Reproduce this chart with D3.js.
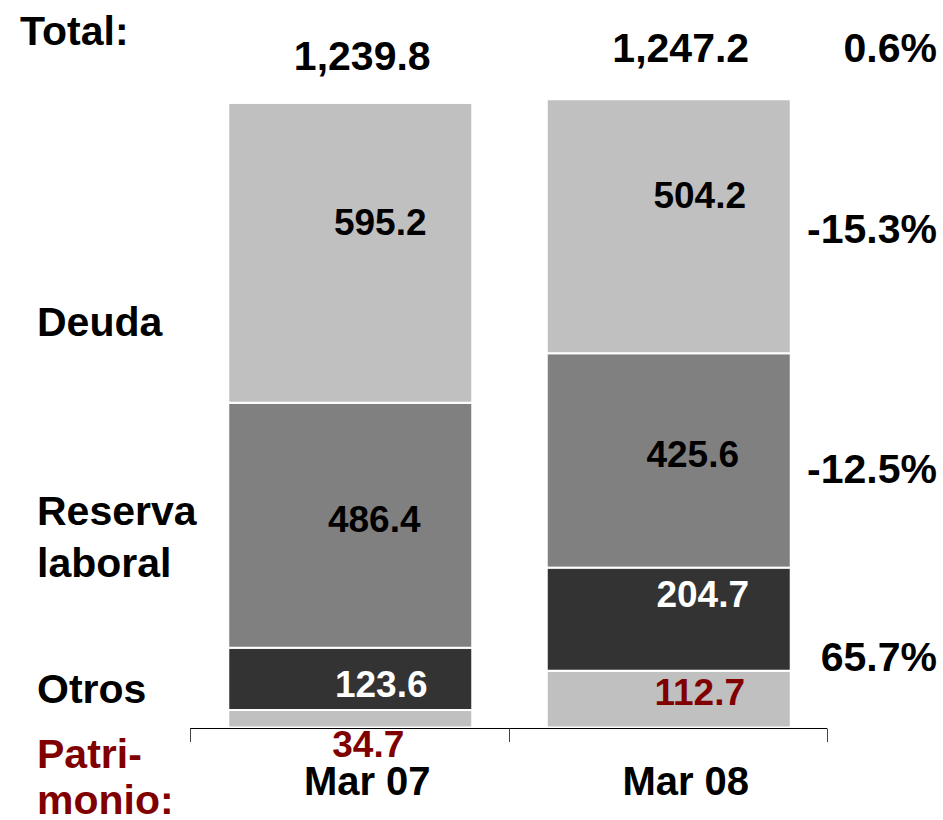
<!DOCTYPE html>
<html>
<head>
<meta charset="utf-8">
<script src="https://cdn.jsdelivr.net/npm/d3@7"></script>
<style>
  html, body { margin: 0; padding: 0; background: #fff; }
  svg { display: block; }
  text { font-family: "Liberation Sans", Arial, sans-serif; font-weight: bold; }
</style>
</head>
<body>
<svg id="chart" width="943" height="820"></svg>
<script>
// ---- data ----
const periods = ["Mar 07", "Mar 08"];
const segments = ["Patrimonio", "Otros", "Reserva laboral", "Deuda"];
const patrimonio = [34.7, 112.7];
const otros = [123.6, 204.7];
const reserva = [486.4, 425.6];
const deuda = [595.2, 504.2];
const totals = [1239.8, 1247.2];
const totalLabels = ["1,239.8", "1,247.2"];
const changeLabels = ["0.6%", "-15.3%", "-12.5%", "65.7%"]; // total, deuda, reserva, otros

// ---- styling / layout ----
const segColors = { "Patrimonio": "#c0c0c0", "Otros": "#333333", "Reserva laboral": "#808080", "Deuda": "#c0c0c0" };
const segTextColors = { "Patrimonio": "#800000", "Otros": "#ffffff", "Reserva laboral": "#000000", "Deuda": "#000000" };
// label nudges [dx, dy from segment middle to baseline] per period per segment
const labelNudge = {
  "Mar 07": { "Deuda": [31, -18], "Reserva laboral": [25, 7], "Otros": [32, 18], "Patrimonio": [19, null] },
  "Mar 08": { "Deuda": [32, -18], "Reserva laboral": [25, 7], "Otros": [35, -12], "Patrimonio": [32, 6] }
};

const svg = d3.select("#chart");

const x = d3.scaleBand().domain(periods).range([190, 827]).padding(0);
const barW = 244;
const y = d3.scaleLinear().domain([0, 1239.8]).range([727.5, 103]);

const table = periods.map((p, i) => ({
  period: p,
  "Patrimonio": patrimonio[i],
  "Otros": otros[i],
  "Reserva laboral": reserva[i],
  "Deuda": deuda[i]
}));
const stack = d3.stack().keys(segments)(table);

const barX = p => x(p) + x.bandwidth() / 2 - barW / 2 + 1;

// bars
const layers = svg.append("g").selectAll("g").data(stack).join("g")
  .attr("fill", d => segColors[d.key]);
layers.selectAll("rect").data(d => d.map(v => ({ key: d.key, v }))).join("rect")
  .attr("x", d => barX(d.v.data.period))
  .attr("width", barW)
  .attr("y", d => y(d.v[1]))
  .attr("height", d => y(d.v[0]) - y(d.v[1]))
  .attr("stroke", "#ffffff")
  .attr("stroke-width", 2);

// segment labels
stack.forEach(layer => {
  layer.forEach(v => {
    const p = v.data.period;
    const val = v[1] - v[0];
    const nd = labelNudge[p][layer.key];
    const cx = x(p) + x.bandwidth() / 2 + nd[0];
    const mid = (y(v[0]) + y(v[1])) / 2;
    let by, col = segTextColors[layer.key];
    if (nd[1] === null) { by = y(0) + 29; col = "#800000"; }
    else by = mid + nd[1];
    svg.append("text")
      .attr("x", cx).attr("y", by)
      .attr("text-anchor", "middle")
      .attr("font-size", 37)
      .attr("fill", col)
      .text(d3.format(".1f")(val));
  });
});

// axis
const axisY = 728.5;
const axis = svg.append("g");
axis.append("line").attr("x1", 190).attr("x2", 827).attr("y1", axisY).attr("y2", axisY)
  .attr("stroke", "#000").attr("stroke-width", 1.2);
const tickXs = periods.map(p => x(p)).concat([x(periods[periods.length - 1]) + x.bandwidth()]);
axis.selectAll(".tick").data(tickXs).join("line")
  .attr("x1", d => Math.round(d) + 0.5).attr("x2", d => Math.round(d) + 0.5)
  .attr("y1", axisY).attr("y2", 742)
  .attr("stroke", "#444").attr("stroke-width", 1);
axis.selectAll(".lbl").data(periods).join("text")
  .attr("x", d => x(d) + x.bandwidth() / 2 + 18)
  .attr("y", 795)
  .attr("text-anchor", "middle")
  .attr("font-size", 40)
  .attr("fill", "#000")
  .text(d => d);

// totals
const totalDy = [-33, -37];
periods.forEach((p, i) => {
  svg.append("text")
    .attr("x", x(p) + x.bandwidth() / 2 + 13)
    .attr("y", y(totals[i]) + totalDy[i])
    .attr("text-anchor", "middle")
    .attr("font-size", 41)
    .attr("fill", "#000")
    .text(totalLabels[i]);
});

// left headings
svg.append("text").attr("x", 20).attr("y", 45).attr("font-size", 41).text("Total:");
const leftLabels = [
  { lines: ["Deuda"], y: 336, gap: 50, color: "#000" },
  { lines: ["Reserva", "laboral"], y: 525, gap: 52, color: "#000" },
  { lines: ["Otros"], y: 703, gap: 50, color: "#000" },
  { lines: ["Patri-", "monio:"], y: 768, gap: 46, color: "#800000" }
];
leftLabels.forEach(l => {
  const t = svg.append("text").attr("x", 37).attr("y", l.y).attr("font-size", 41).attr("fill", l.color);
  l.lines.forEach((s, k) => t.append("tspan").attr("x", 37).attr("dy", k === 0 ? 0 : l.gap).text(s));
});

// change labels on the right
const m8 = stack.map(layer => layer[1]);
const changeY = [
  y(totals[1]) - 37,
  (y(m8[3][0]) + y(m8[3][1])) / 2 + 17,
  (y(m8[2][0]) + y(m8[2][1])) / 2 + 23,
  (y(m8[1][0]) + y(m8[1][1])) / 2 + 52
];
changeLabels.forEach((s, i) => {
  svg.append("text")
    .attr("x", 937).attr("y", changeY[i])
    .attr("text-anchor", "end")
    .attr("font-size", 41)
    .attr("fill", "#000")
    .text(s);
});
</script>
</body>
</html>
